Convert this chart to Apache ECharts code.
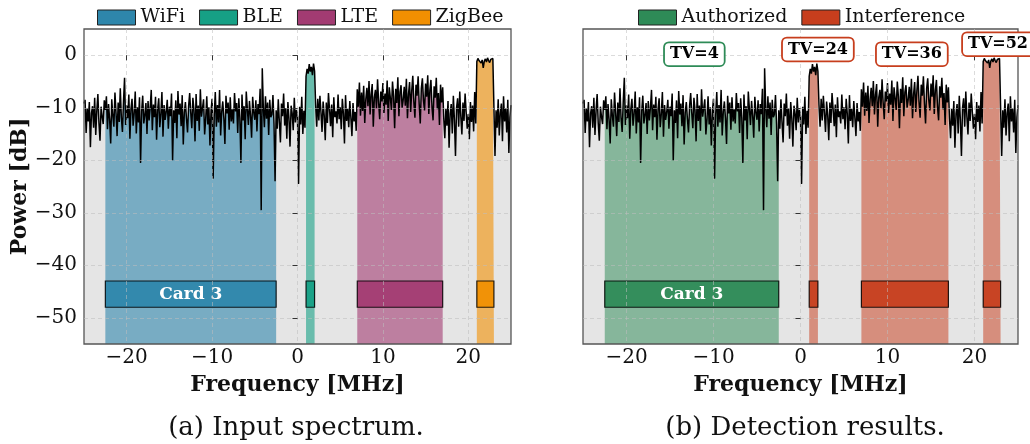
<!DOCTYPE html>
<html>
<head>
<meta charset="utf-8">
<script src="https://cdn.jsdelivr.net/npm/echarts@6/dist/echarts.min.js"></script>
<style>
  html, body { margin: 0; padding: 0; background: #ffffff; }
  #chart { width: 1030px; height: 444px; }
</style>
</head>
<body>
<div id="chart"></div>
<script>
// Measured power spectrum, one sample every 0.125 MHz from -25 MHz to +25 MHz
const freqStart = -25;
const freqStep = 0.125;
const power = [
  -9.2, -8.5, -14.8, -10.1, -12.6, -8.9, -17.5, -11.0, -9.7, -13.8, -8.1, -15.2, -10.6, -7.4, -12.9, -16.3, -9.8, -11.7, -13.1, -8.6,
  -10.4, -7.8, -14.1, -9.3, -12.2, -16.8, -8.4, -11.5, -13.6, -7.1, -10.9, -15.4, -9.0, -12.7, -6.3, -11.9, -14.6, -8.8, -4.3, -13.3,
  -9.6, -12.0, -7.5, -15.9, -10.2, -8.3, -13.4, -11.1, -6.9, -14.9, -9.9, -12.8, -8.0, -20.5, -10.7, -7.7, -13.0, -11.4, -9.1, -15.0,
  -8.7, -12.4, -10.0, -6.6, -14.3, -9.4, -11.8, -7.9, -16.1, -10.3, -8.2, -13.7, -11.2, -7.0, -15.5, -9.5, -12.3, -10.8, -8.5, -14.0,
  -9.8, -11.6, -7.3, -20.0, -10.5, -12.9, -8.6, -15.8, -6.8, -11.3, -9.2, -13.5, -7.6, -17.0, -10.9, -8.9, -12.1, -14.7, -9.7, -7.2,
  -11.0, -13.9, -8.1, -10.4, -16.4, -7.4, -12.5, -9.6, -14.4, -6.5, -11.7, -10.1, -8.4, -15.1, -12.2, -7.8, -13.2, -9.9, -17.2, -10.6,
  -8.3, -23.5, -11.4, -7.0, -13.6, -9.5, -12.8, -6.6, -15.3, -10.8, -8.8, -12.0, -16.9, -7.7, -11.1, -9.0, -14.2, -8.0, -12.6, -10.3,
  -13.0, -7.2, -10.7, -9.1, -14.8, -8.2, -11.9, -20.5, -7.5, -12.4, -9.7, -16.0, -6.9, -10.2, -13.3, -8.7, -11.5, -15.7, -7.9, -10.9,
  -12.3, -8.6, -14.5, -9.3, -11.2, -6.4, -29.5, -2.5, -10.0, -13.7, -7.8, -12.1, -9.0, -15.2, -8.5, -11.8, -11.3, -7.6, -13.1, -24.0,
  -10.5, -14.0, -8.4, -12.7, -16.6, -9.2, -11.6, -7.3, -13.4, -10.1, -15.9, -8.9, -12.0, -17.4, -9.6, -11.0, -14.3, -8.1, -12.8, -10.4,
  -11.7, -24.5, -9.8, -13.2, -7.9, -15.0, -10.6, -13.8, -4.0, -2.6, -3.5, -1.7, -3.1, -2.2, -3.8, -1.6, -3.0, -9.5, -13.6, -8.3,
  -12.4, -7.7, -10.9, -14.6, -8.8, -11.4, -16.2, -9.0, -12.9, -7.2, -10.3, -13.5, -9.4, -15.6, -8.0, -11.8, -10.7, -13.0, -7.5, -12.2,
  -9.9, -14.1, -8.3, -11.1, -16.8, -7.6, -12.5, -10.2, -13.7, -8.7, -11.9, -15.4, -9.1, -12.6, -10.8, -14.4, -6.5, -9.8, -5.2, -11.5,
  -7.1, -10.6, -5.8, -12.9, -8.4, -6.2, -9.7, -4.9, -11.3, -7.5, -5.5, -13.6, -8.0, -6.6, -10.1, -4.6, -9.0, -12.2, -6.9, -8.8,
  -5.3, -11.0, -7.3, -9.4, -4.8, -12.5, -6.1, -8.2, -10.4, -5.0, -7.8, -13.9, -6.4, -9.1, -4.2, -11.6, -7.0, -5.7, -10.0, -8.5,
  -6.0, -9.6, -4.5, -12.0, -7.4, -5.1, -10.8, -6.8, -3.9, -8.9, -11.9, -5.6, -7.7, -4.0, -9.3, -13.0, -6.3, -4.4, -8.6, -10.5,
  -5.4, -7.9, -3.8, -11.2, -6.7, -4.7, -9.9, -12.4, -5.9, -8.1, -4.3, -10.3, -7.2, -13.3, -5.6, -9.0, -6.1, -12.0, -15.8, -10.2,
  -13.4, -8.7, -17.6, -11.1, -9.3, -14.9, -7.7, -12.3, -19.2, -10.0, -8.2, -13.6, -6.9, -11.7, -15.1, -9.0, -12.5, -7.3, -10.8, -14.0,
  -11.2, -16.0, -8.9, -12.7, -9.6, -14.5, -7.0, -13.0, -1.2, -0.6, -1.0, -0.8, -1.5, -0.9, -2.4, -1.1, -0.7, -1.3, -0.5, -1.0,
  -1.4, -0.8, -1.1, -0.6, -0.9, -19.2, -10.5, -13.8, -8.4, -15.3, -11.0, -9.2, -16.4, -7.8, -12.6, -10.1, -14.7, -8.5, -18.6, -11.8,
  -9.5
];

// (a) ground-truth transmitters
const inputBands = ['WiFi', 'BLE', 'LTE', 'ZigBee'];
const inputStart = [-22.5, 1, 7, 21];
const inputEnd = [-2.5, 2, 17, 23];
const inputColors = ['#2E86AB', '#16A085', '#A23B72', '#F18F01'];

// (b) detected signals
const detectClasses = ['Authorized', 'Interference'];
const detectColors = ['#2E8B57', '#C73E1D'];
const detectStart = [-22.5, 1, 7, 21];
const detectEnd = [-2.5, 2, 17, 23];
const detectClass = [0, 1, 1, 1];
const tvLabels = ['TV=4', 'TV=24', 'TV=36', 'TV=52'];
const tvX = [-12.2, 2.0, 12.8, 22.7];
const tvY = [0.2, 1.1, 0.2, 2.1];

// card strip drawn under each band
const cardLow = -48;
const cardHigh = -43;
const cardText = ['Card 3', '', '', ''];

const xTicks = [-20, -10, 0, 10, 20];
const yTicks = [-50, -40, -30, -20, -10, 0];
const captions = ['(a) Input spectrum.', '(b) Detection results.'];

const SERIF = '"DejaVu Serif", "Liberation Serif", serif';

const spectrum = power.map((p, i) => [Math.round((freqStart + i * freqStep) * 1000) / 1000, p]);
const inBand = (lo, hi) => spectrum.filter(d => d[0] >= lo - 1e-9 && d[0] <= hi + 1e-9);

function rgba(hex, a) {
  const n = parseInt(hex.slice(1), 16);
  return 'rgba(' + ((n >> 16) & 255) + ',' + ((n >> 8) & 255) + ',' + (n & 255) + ',' + a + ')';
}
const minus = v => (v < 0 ? '\u2212' : '') + Math.abs(v);

const gridLine = { show: true, lineStyle: { type: [4, 3], color: 'rgba(190,190,190,0.55)', width: 1 } };
const titleFont = { fontFamily: SERIF, fontWeight: 'bold', fontSize: 22, color: '#111' };

function makeXAxis(gi) {
  return {
    type: 'value', gridIndex: gi, min: -25, max: 25, z: 5,
    axisLine: { show: false },
    axisTick: { show: true, customValues: xTicks, length: 5, lineStyle: { color: '#333', width: 1 } },
    axisLabel: { customValues: xTicks, formatter: minus, fontFamily: SERIF, fontSize: 20, color: '#111', margin: 4 },
    splitLine: gridLine,
    name: 'Frequency [MHz]', nameLocation: 'middle', nameGap: 30, nameTextStyle: titleFont
  };
}
function makeYAxis(gi, labels) {
  const ax = {
    type: 'value', gridIndex: gi, min: -55, max: 5, z: 5,
    axisLine: { show: false },
    axisTick: { show: true, customValues: yTicks, length: 5, lineStyle: { color: '#333', width: 1 } },
    axisLabel: { show: labels, customValues: yTicks, formatter: minus, fontFamily: SERIF, fontSize: 20, color: '#111', margin: 7 },
    splitLine: gridLine
  };
  if (labels) {
    Object.assign(ax, { name: 'Power [dB]', nameLocation: 'middle', nameGap: 51, nameTextStyle: titleFont });
  }
  return ax;
}

function cardRenderer(color) {
  return function (params, api) {
    const a = api.coord([api.value(0), api.value(3)]);
    const b = api.coord([api.value(1), api.value(2)]);
    const txt = cardText[api.value(4)];
    const children = [{
      type: 'rect',
      shape: { x: a[0], y: a[1], width: b[0] - a[0], height: b[1] - a[1] },
      style: { fill: rgba(color, 0.93), stroke: 'rgba(0,0,0,0.85)', lineWidth: 1.2 }
    }];
    if (txt) {
      children.push({
        type: 'text',
        style: {
          text: txt, x: (a[0] + b[0]) / 2, y: (a[1] + b[1]) / 2,
          align: 'center', verticalAlign: 'middle', fill: '#ffffff',
          fontFamily: SERIF, fontWeight: 'bold', fontSize: 17
        }
      });
    }
    return { type: 'group', children };
  };
}

function floorSeries(gi) {
  return {
    type: 'line', name: 'floor' + gi, xAxisIndex: gi, yAxisIndex: gi, data: spectrum,
    showSymbol: false, symbol: 'none', silent: true, z: 1,
    lineStyle: { width: 0, opacity: 0 },
    areaStyle: { color: '#e5e5e5', opacity: 1, origin: 'start' }
  };
}
function traceSeries(gi) {
  return {
    type: 'line', name: 'trace' + gi, xAxisIndex: gi, yAxisIndex: gi, data: spectrum,
    showSymbol: false, symbol: 'none', silent: true, z: 3,
    lineStyle: { color: '#000000', width: 1.5 }
  };
}
function bandFill(gi, lo, hi, color, alpha, key) {
  return {
    type: 'line', name: 'band-' + key, xAxisIndex: gi, yAxisIndex: gi, data: inBand(lo, hi),
    showSymbol: false, symbol: 'none', silent: true, z: 2,
    lineStyle: { width: 0, opacity: 0 },
    areaStyle: { color: rgba(color, alpha), opacity: 1, origin: 'start' }
  };
}

const series = [];
// panel (a): input spectrum with the true transmitters
series.push(floorSeries(0));
inputBands.forEach((b, i) => series.push(bandFill(0, inputStart[i], inputEnd[i], inputColors[i], 0.6, 'a' + i)));
series.push(traceSeries(0));
inputBands.forEach((b, i) => series.push({
  type: 'custom', name: b, xAxisIndex: 0, yAxisIndex: 0, z: 4,
  itemStyle: { color: inputColors[i] },
  renderItem: cardRenderer(inputColors[i]),
  encode: { x: [0, 1], y: [2, 3] },
  data: [[inputStart[i], inputEnd[i], cardLow, cardHigh, i]]
}));
// panel (b): detections with their TV tags
series.push(floorSeries(1));
detectStart.forEach((s, i) => series.push(bandFill(1, s, detectEnd[i], detectColors[detectClass[i]], 0.52, 'b' + i)));
series.push(traceSeries(1));
detectClasses.forEach((c, k) => series.push({
  type: 'custom', name: c, xAxisIndex: 1, yAxisIndex: 1, z: 4,
  itemStyle: { color: detectColors[k] },
  renderItem: cardRenderer(detectColors[k]),
  encode: { x: [0, 1], y: [2, 3] },
  data: detectStart.map((s, i) => [s, detectEnd[i], cardLow, cardHigh, i]).filter((d, i) => detectClass[i] === k)
}));
series.push({
  type: 'scatter', name: 'tv', xAxisIndex: 1, yAxisIndex: 1, z: 6, clip: false, silent: true,
  symbolSize: 2, itemStyle: { color: 'rgba(0,0,0,0)', opacity: 1 },
  data: tvLabels.map((t, i) => ({
    value: [tvX[i], tvY[i]],
    label: { formatter: t, borderColor: detectColors[detectClass[i]] }
  })),
  label: {
    show: true, position: 'inside', fontFamily: SERIF, fontWeight: 'bold', fontSize: 16, color: '#000',
    backgroundColor: '#ffffff', borderWidth: 1.8, borderRadius: 4, padding: [3, 5]
  },
  labelLayout: { hideOverlap: false }
});

const legendCommon = {
  top: 3, itemWidth: 38, itemHeight: 15, itemGap: 14, icon: 'rect',
  itemStyle: { borderColor: '#222', borderWidth: 1 },
  textStyle: { fontFamily: SERIF, fontSize: 19, color: '#111' },
  selectedMode: false
};

const option = {
  animation: false,
  backgroundColor: '#ffffff',
  grid: [
    { left: 84, top: 29, width: 427, height: 315, show: true, z: 4, borderColor: '#555', borderWidth: 1.3, backgroundColor: 'transparent' },
    { left: 583, top: 29, width: 435, height: 315, show: true, z: 4, borderColor: '#555', borderWidth: 1.3, backgroundColor: 'transparent' }
  ],
  legend: [
    Object.assign({}, legendCommon, { left: 92, data: inputBands }),
    Object.assign({}, legendCommon, { left: 633, data: detectClasses })
  ],
  title: [
    { text: captions[0], left: 291, top: 410, textAlign: 'center',
      textStyle: { fontFamily: SERIF, fontWeight: 'normal', fontSize: 26, color: '#111' } },
    { text: captions[1], left: 800, top: 410, textAlign: 'center',
      textStyle: { fontFamily: SERIF, fontWeight: 'normal', fontSize: 26, color: '#111' } }
  ],
  xAxis: [makeXAxis(0), makeXAxis(1)],
  yAxis: [makeYAxis(0, true), makeYAxis(1, false)],
  series
};

const chart = echarts.init(document.getElementById('chart'), null, { renderer: 'canvas' });
chart.setOption(option);
</script>
</body>
</html>
